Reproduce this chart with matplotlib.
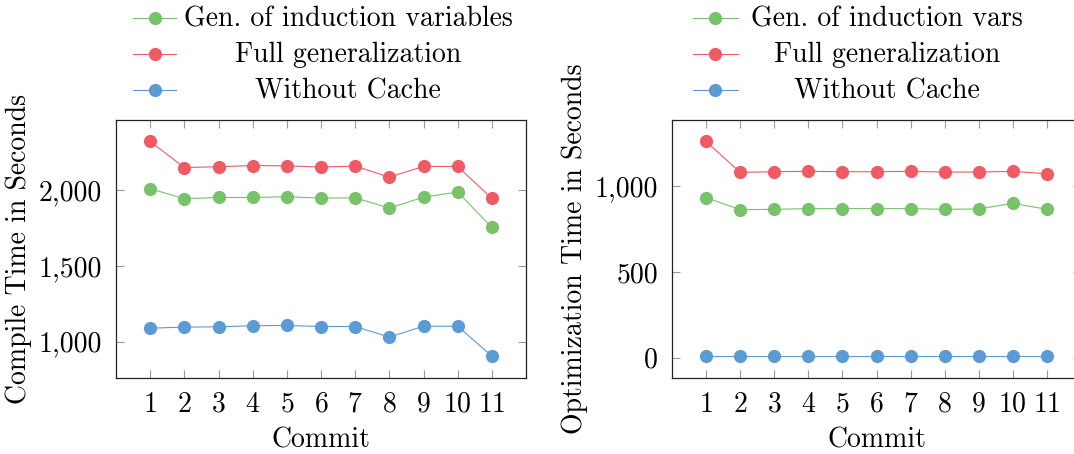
import matplotlib
matplotlib.use('Agg')
from matplotlib import pyplot as plt
from matplotlib.lines import Line2D
from matplotlib.ticker import FuncFormatter

plt.rcParams['font.family'] = ['cmr10', 'DejaVu Serif']
plt.rcParams['axes.formatter.use_mathtext'] = True
plt.rcParams['font.size'] = 20

commits = [1, 2, 3, 4, 5, 6, 7, 8, 9, 10, 11]

# compile time (left)
compile_gen_ind = [2009, 1943, 1951, 1951, 1956, 1947, 1949, 1881, 1953, 1987, 1753]
compile_full = [2321, 2149, 2154, 2162, 2160, 2152, 2158, 2086, 2156, 2156, 1945]
compile_nocache = [1088, 1095, 1097, 1104, 1106, 1099, 1099, 1029, 1101, 1101, 904]

# optimization time (right)
opt_gen_ind = [932, 862, 864, 868, 868, 868, 868, 864, 866, 899, 864]
opt_full = [1259, 1079, 1083, 1085, 1083, 1083, 1085, 1081, 1081, 1085, 1071]
opt_nocache = [10, 10, 10, 10, 10, 10, 10, 10, 10, 10, 10]

left_labels = ['Gen. of induction variables', 'Full generalization', 'Without Cache']
right_labels = ['Gen. of induction vars', 'Full generalization', 'Without Cache']

GREEN = '#78c26a'
RED = '#f05a64'
BLUE = '#5b9bd5'
colors = [GREEN, RED, BLUE]

W, H = 1074, 454
fig = plt.figure(figsize=(W / 100, H / 100), dpi=100)


def px(x, y):
    return x / W, 1 - y / H


def setup(ax, series, ylabel, yticks):
    for vals, c in zip(series, colors):
        ax.plot(commits, vals, color=c, lw=0.8, marker='o', ms=9.5,
                markeredgewidth=0, clip_on=False)
    lo = min(min(v) for v in series)
    hi = max(max(v) for v in series)
    pad = 0.1 * (hi - lo)
    ax.set_ylim(lo - pad, hi + pad)
    ax.set_xlim(0, 12)
    ax.set_xticks(commits)
    ax.set_yticks(yticks)
    ax.yaxis.set_major_formatter(FuncFormatter(lambda v, p: f'{v:,.0f}'))
    ax.tick_params(direction='in', top=True, right=True, length=5.8,
                   width=0.8, color='#999999', pad=10)
    ax.tick_params(axis='x', pad=10)
    for s in ax.spines.values():
        s.set_linewidth(0.9)
        s.set_color('#222222')
    ax.set_xlabel('Commit', labelpad=7)
    ax.set_ylabel(ylabel, labelpad=5)


def legend(labels, x0, x1, xm, xc):
    for i, (lab, c) in enumerate(zip(labels, colors)):
        y = 18 + 36 * i
        fig.add_artist(Line2D([x0 / W, x1 / W], [1 - y / H] * 2, color=c, lw=0.8,
                              transform=fig.transFigure))
        fig.add_artist(Line2D([xm / W], [1 - y / H], color=c, marker='o', ms=9.5,
                              markeredgewidth=0, transform=fig.transFigure))
        fig.text(*px(xc, y + 8.5), lab, ha='center', va='baseline')


ax1 = fig.add_axes([116 / W, (H - 377.5) / H, 410 / W, 257.5 / H])
setup(ax1, [compile_gen_ind, compile_full, compile_nocache],
      'Compile Time in Seconds', [1000, 1500, 2000])

ax2 = fig.add_axes([672 / W, (H - 377.5) / H, 409 / W, 257.5 / H])
setup(ax2, [opt_gen_ind, opt_full, opt_nocache],
      'Optimization Time in Seconds', [0, 500, 1000])

legend(left_labels, 133, 176, 154.5, 348)
legend(right_labels, 693, 738, 715, 887)

fig.savefig('out.png', dpi=100)
